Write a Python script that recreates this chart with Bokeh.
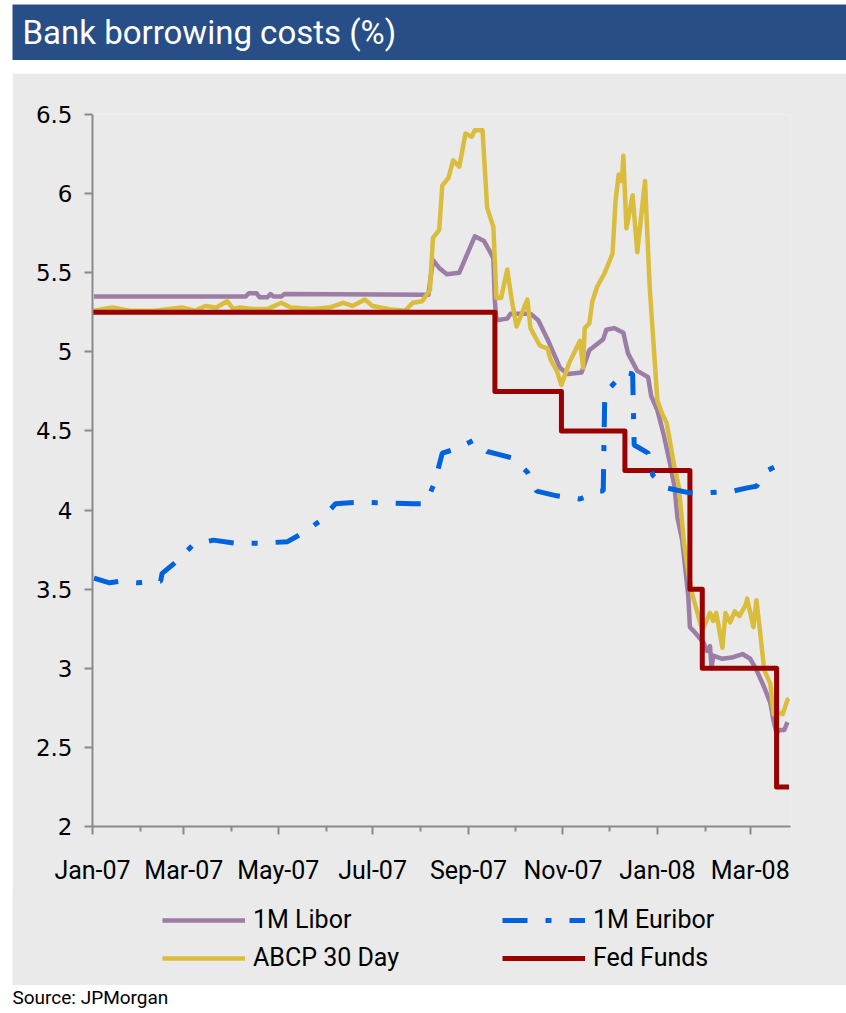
import pandas as pd
from bokeh.plotting import figure
from bokeh.models import (Range1d, FixedTicker, DatetimeTickFormatter, NumeralTickFormatter,
                          Legend, LegendItem, Label)
from bokeh.embed import file_html
from bokeh.resources import INLINE

# ---------------- data ----------------
libor_dates = ["2007-01-02", "2007-04-10", "2007-04-12", "2007-04-17", "2007-04-19", "2007-04-24",
               "2007-04-26", "2007-04-28", "2007-05-03", "2007-05-05", "2007-08-06", "2007-08-09",
               "2007-08-13", "2007-08-18", "2007-08-26", "2007-09-05", "2007-09-11", "2007-09-15",
               "2007-09-17", "2007-09-18", "2007-09-19", "2007-09-26", "2007-09-28", "2007-10-11",
               "2007-10-16", "2007-10-22", "2007-10-26", "2007-10-30", "2007-11-04", "2007-11-13",
               "2007-11-18", "2007-11-27", "2007-11-29", "2007-12-04", "2007-12-10", "2007-12-13",
               "2007-12-19", "2007-12-26", "2007-12-28", "2008-01-01", "2008-01-05", "2008-01-09",
               "2008-01-12", "2008-01-14", "2008-01-17", "2008-01-21", "2008-01-22", "2008-01-24",
               "2008-01-31", "2008-02-02", "2008-02-04", "2008-02-05", "2008-02-06", "2008-02-12",
               "2008-02-19", "2008-02-25", "2008-03-01", "2008-03-05", "2008-03-10", "2008-03-14",
               "2008-03-16", "2008-03-18", "2008-03-20", "2008-03-23", "2008-03-25"]
libor_vals = [5.35, 5.35, 5.37, 5.37, 5.345, 5.345,
              5.365, 5.35, 5.35, 5.365, 5.36, 5.58,
              5.53, 5.49, 5.50, 5.73, 5.70, 5.63,
              5.59, 5.32, 5.20, 5.21, 5.24, 5.24,
              5.20, 5.08, 4.99, 4.90, 4.86, 4.87,
              5.01, 5.08, 5.14, 5.15, 5.12, 4.99,
              4.88, 4.84, 4.72, 4.63, 4.48, 4.30,
              4.15, 3.95, 3.81, 3.45, 3.26, 3.24,
              3.16, 3.11, 3.14, 3.00, 3.08, 3.06,
              3.07, 3.09, 3.06, 2.99, 2.88, 2.78,
              2.67, 2.59, 2.61, 2.61, 2.66]

euribor_dates = ["2007-01-02", "2007-01-12", "2007-01-19", "2007-01-30", "2007-02-14", "2007-02-15",
                 "2007-02-25", "2007-03-07", "2007-03-20", "2007-04-04", "2007-04-19", "2007-05-07",
                 "2007-05-16", "2007-05-28", "2007-06-07", "2007-06-23", "2007-07-27", "2007-08-04",
                 "2007-08-10", "2007-08-15", "2007-08-25", "2007-09-04", "2007-09-13", "2007-09-21",
                 "2007-09-29", "2007-10-09", "2007-10-15", "2007-10-28", "2007-11-12", "2007-11-25",
                 "2007-11-27", "2007-11-28", "2007-12-03", "2007-12-11", "2007-12-16", "2007-12-17",
                 "2007-12-19", "2007-12-26", "2007-12-29", "2008-01-07", "2008-01-21", "2008-02-04",
                 "2008-02-19", "2008-02-28", "2008-03-05", "2008-03-12", "2008-03-25"]
euribor_vals = [3.57, 3.54, 3.55, 3.54, 3.55, 3.60,
                3.68, 3.78, 3.81, 3.79, 3.79, 3.80,
                3.85, 3.93, 4.04, 4.05, 4.04, 4.04,
                4.17, 4.36, 4.39, 4.44, 4.37, 4.35,
                4.33, 4.24, 4.12, 4.09, 4.07, 4.12,
                4.12, 4.74, 4.79, 4.87, 4.86, 4.41,
                4.40, 4.36, 4.22, 4.14, 4.11, 4.11,
                4.12, 4.14, 4.15, 4.25, 4.31]

abcp_dates = ["2007-01-02", "2007-01-14", "2007-01-25", "2007-02-10", "2007-02-28", "2007-03-08",
              "2007-03-15", "2007-03-22", "2007-03-29", "2007-04-02", "2007-04-06", "2007-04-16",
              "2007-04-24", "2007-05-03", "2007-05-09", "2007-05-23", "2007-06-03", "2007-06-12",
              "2007-06-18", "2007-06-26", "2007-07-01", "2007-07-12", "2007-07-22", "2007-07-27",
              "2007-08-02", "2007-08-07", "2007-08-09", "2007-08-13", "2007-08-15", "2007-08-19",
              "2007-08-22", "2007-08-26", "2007-08-30", "2007-09-03", "2007-09-05", "2007-09-10",
              "2007-09-13", "2007-09-17", "2007-09-19", "2007-09-22", "2007-09-26", "2007-09-29",
              "2007-10-02", "2007-10-09", "2007-10-11", "2007-10-17", "2007-10-22", "2007-10-24",
              "2007-10-28", "2007-10-31", "2007-11-05", "2007-11-12", "2007-11-14", "2007-11-15",
              "2007-11-18", "2007-11-20", "2007-11-23", "2007-11-28", "2007-12-03", "2007-12-05",
              "2007-12-07", "2007-12-09", "2007-12-10", "2007-12-12", "2007-12-16", "2007-12-19",
              "2007-12-24", "2007-12-27", "2008-01-01", "2008-01-04", "2008-01-07", "2008-01-09",
              "2008-01-12", "2008-01-15", "2008-01-18", "2008-01-21", "2008-01-24", "2008-01-30",
              "2008-02-04", "2008-02-06", "2008-02-08", "2008-02-12", "2008-02-14", "2008-02-17",
              "2008-02-20", "2008-02-23", "2008-02-27", "2008-02-28", "2008-03-03", "2008-03-05",
              "2008-03-07", "2008-03-10", "2008-03-14", "2008-03-16", "2008-03-18", "2008-03-22",
              "2008-03-25", "2008-03-26"]
abcp_vals = [5.26, 5.28, 5.26, 5.26, 5.28, 5.26,
             5.29, 5.28, 5.32, 5.27, 5.28, 5.27,
             5.27, 5.31, 5.28, 5.27, 5.28, 5.31,
             5.29, 5.33, 5.29, 5.27, 5.26, 5.31,
             5.32, 5.39, 5.72, 5.77, 6.05, 6.10,
             6.21, 6.17, 6.38, 6.36, 6.40, 6.40,
             5.91, 5.79, 5.34, 5.34, 5.52, 5.32,
             5.16, 5.33, 5.15, 5.04, 5.02, 4.95,
             4.88, 4.79, 4.93, 5.07, 4.90, 5.15,
             5.18, 5.32, 5.41, 5.50, 5.62, 5.96,
             6.12, 6.08, 6.24, 5.78, 5.99, 5.63,
             6.08, 5.41, 4.69, 4.61, 4.55, 4.44,
             4.27, 4.14, 3.81, 3.60, 3.45, 3.24,
             3.35, 3.30, 3.35, 3.13, 3.35, 3.29,
             3.36, 3.33, 3.40, 3.44, 3.26, 3.43,
             3.26, 2.99, 2.90, 2.71, 2.72, 2.71,
             2.80, 2.81]

fed_dates = ["2007-01-01", "2007-09-18", "2007-10-31", "2007-12-11", "2008-01-22",
             "2008-01-30", "2008-03-18", "2008-03-26"]
fed_vals = [5.25, 4.75, 4.50, 4.25, 3.50, 3.00, 2.25, 2.25]

series_names = ["1M Libor", "ABCP 30 Day", "1M Euribor", "Fed Funds"]

x_start, x_end = "2007-01-01", "2008-03-27"
major_months = ["2007-01-01", "2007-03-01", "2007-05-01", "2007-07-01", "2007-09-01",
                "2007-11-01", "2008-01-01", "2008-03-01"]
minor_months = ["2007-02-01", "2007-04-01", "2007-06-01", "2007-08-01", "2007-10-01",
                "2007-12-01", "2008-02-01"]
y_ticks = [2, 2.5, 3, 3.5, 4, 4.5, 5, 5.5, 6, 6.5]

# ---------------- styles ----------------
BLUE_BAR = "#274E86"
GRAY = "#EAEAEA"
AXIS = "#8A8A8A"
C_LIBOR = "#9B7DA5"
C_EUR = "#0062DD"
C_ABCP = "#DABD3C"
C_FED = "#990000"
FONT = "Roboto"
STYLE = {
    "1M Libor": dict(line_color=C_LIBOR, line_width=4.5, line_join="round"),
    "ABCP 30 Day": dict(line_color=C_ABCP, line_width=4.5, line_join="round"),
    "1M Euribor": dict(line_color=C_EUR, line_width=5, line_dash="25 18 6 18"),
    "Fed Funds": dict(line_color=C_FED, line_width=5, line_join="round"),
}


def ms(s):
    return pd.Timestamp(s).value // 10**6


def dt(lst):
    return [pd.Timestamp(s).to_pydatetime() for s in lst]


# ---------------- title bar ----------------
pt = figure(width=834, height=56, x_range=Range1d(0, 834), y_range=Range1d(0, 56),
            x_axis_type=None, y_axis_type=None, toolbar_location=None, output_backend="svg",
            min_border=0, outline_line_color=None, title=None,
            background_fill_color=BLUE_BAR, border_fill_color=BLUE_BAR)
pt.grid.visible = False
pt.add_layout(Label(x=10, y=28, text="Bank borrowing costs (%)", text_color="white",
                    text_font=FONT, text_font_size="33px", text_baseline="middle"))
pt.margin = (4, 0, 0, 12)

# ---------------- main chart ----------------
p = figure(frame_width=698, frame_height=712, x_axis_type="datetime",
           x_range=Range1d(pd.Timestamp(x_start).to_pydatetime(), pd.Timestamp(x_end).to_pydatetime()),
           y_range=Range1d(2, 6.5), toolbar_location=None, output_backend="svg", title=None,
           min_border_left=80, min_border_right=56, min_border_top=41, min_border_bottom=64,
           background_fill_color=GRAY, border_fill_color=GRAY, outline_line_color=None)
p.margin = (13, 0, 0, 12)
p.grid.visible = False

p.line(dt(libor_dates), libor_vals, **STYLE["1M Libor"])
p.line(dt(abcp_dates), abcp_vals, **STYLE["ABCP 30 Day"])
p.step(dt(fed_dates), fed_vals, mode="after", **STYLE["Fed Funds"])
p.line(dt(euribor_dates), euribor_vals, **STYLE["1M Euribor"])

p.xaxis.ticker = FixedTicker(ticks=[ms(m) for m in major_months], minor_ticks=[ms(m) for m in minor_months])
fmt = "%b-%y"
p.xaxis.formatter = DatetimeTickFormatter(years=fmt, months=fmt, days=fmt, hours=fmt,
                                          strip_leading_zeros=False)
p.yaxis.ticker = FixedTicker(ticks=y_ticks)
p.yaxis.formatter = NumeralTickFormatter(format="0.[0]")

for ax in p.axis:
    ax.axis_line_color = AXIS
    ax.axis_line_width = 2
    ax.major_tick_line_color = AXIS
    ax.major_tick_line_width = 2
    ax.minor_tick_line_color = AXIS
    ax.minor_tick_line_width = 2
    ax.major_tick_in = 0
    ax.major_tick_out = 8
    ax.minor_tick_in = 0
    ax.minor_tick_out = 5
    ax.major_label_text_color = "black"
p.yaxis.minor_tick_line_color = None
p.xaxis.major_label_text_font = FONT
p.xaxis.major_label_text_font_size = "25px"
p.xaxis.major_label_standoff = 21
p.yaxis.major_label_text_font = "DejaVu Sans"
p.yaxis.major_label_text_font_size = "23px"
p.yaxis.major_label_standoff = 12

# ---------------- legend panel (key swatches only, no data drawn) ----------------
pl = figure(width=834, height=96, x_range=Range1d(0, 1), y_range=Range1d(0, 1),
            x_axis_type=None, y_axis_type=None, toolbar_location=None, output_backend="svg",
            min_border=0, outline_line_color=None, title=None,
            background_fill_color=GRAY, border_fill_color=GRAY)
pl.grid.visible = False
pl.margin = (-1, 0, 0, 12)
key_items = []
for name in series_names:
    r = pl.line(x=[float("nan")], y=[float("nan")], **STYLE[name])
    key_items.append(LegendItem(label=name, renderers=[r]))

legend = Legend(items=key_items, orientation="vertical", nrows=2, location=(150, 13),
                glyph_width=83, glyph_height=20, label_standoff=8, label_width=240,
                spacing=9, padding=10, margin=0, border_line_color=None,
                background_fill_alpha=0, inactive_fill_alpha=0,
                label_text_font=FONT, label_text_font_size="25px", label_text_color="black")
pl.add_layout(legend, "center")

# ---------------- source ----------------
ps = figure(width=846, height=28, x_range=Range1d(0, 846), y_range=Range1d(0, 28),
            x_axis_type=None, y_axis_type=None, toolbar_location=None, output_backend="svg",
            min_border=0, outline_line_color=None, title=None,
            background_fill_color="white", border_fill_color="white")
ps.grid.visible = False
ps.add_layout(Label(x=12, y=16, text="Source: JPMorgan", text_color="black",
                    text_font=FONT, text_font_size="19px", text_baseline="middle"))

open("out.html", "w").write(file_html([pt, p, pl, ps], INLINE))
